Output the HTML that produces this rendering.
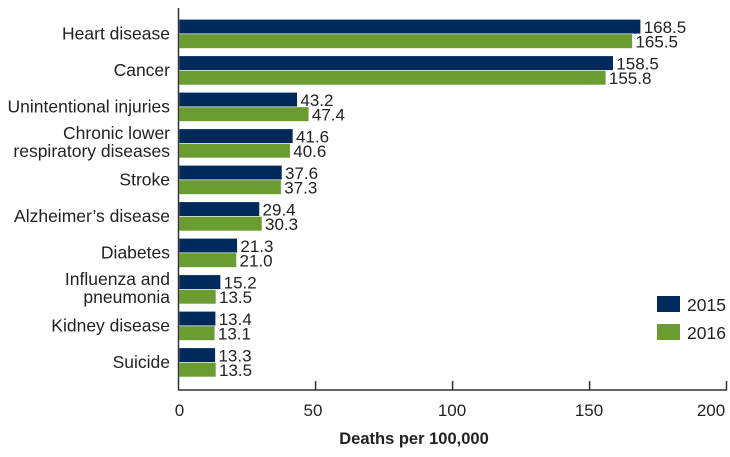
<!DOCTYPE html>
<html><head><meta charset="utf-8"><style>
body{margin:0;background:#fff}
svg text{font-family:"Liberation Sans",sans-serif;fill:#222}
</style></head><body>
<svg width="730" height="452" viewBox="0 0 730 452" xmlns="http://www.w3.org/2000/svg">
<g id="bars"></g>
<line x1="178.5" y1="8" x2="178.5" y2="390" stroke="#333" stroke-width="1.5"/>
<line x1="178" y1="390" x2="727" y2="390" stroke="#333" stroke-width="1.5"/>
<g stroke="#333" stroke-width="1.5">
<line x1="315.6" y1="381" x2="315.6" y2="390"/><line x1="452.6" y1="381" x2="452.6" y2="390"/>
<line x1="589.6" y1="381" x2="589.6" y2="390"/><line x1="726.5" y1="381" x2="726.5" y2="390"/>
</g>
<g font-size="17" text-anchor="middle">
<text x="179.5" y="416">0</text><text x="313" y="416">50</text><text x="452" y="416">100</text><text x="589" y="416">150</text><text x="711" y="416">200</text>
</g>
<text x="414" y="444" font-size="16.5" font-weight="bold" text-anchor="middle">Deaths per 100,000</text>
<rect x="657" y="296" width="23" height="16" fill="#002a5c"/>
<rect x="657" y="324" width="23" height="16" fill="#6a9c32"/>
<text x="687" y="311" font-size="17.5">2015</text>
<text x="687" y="339" font-size="17.5">2016</text>
<g id="labels" font-size="17.5" text-anchor="end"></g>
<script>
var d=[["Heart disease",168.5,165.5],["Cancer",158.5,155.8],["Unintentional injuries",43.2,47.4],["Chronic lower|respiratory diseases",41.6,40.6],["Stroke",37.6,37.3],["Alzheimer’s disease",29.4,30.3],["Diabetes",21.3,21.0],["Influenza and|pneumonia",15.2,13.5],["Kidney disease",13.4,13.1],["Suicide",13.3,13.5]];
var ns="http://www.w3.org/2000/svg",b=document.getElementById("bars"),l=document.getElementById("labels");
function el(p,t,a,tx){var e=document.createElementNS(ns,t);for(var k in a)e.setAttribute(k,a[k]);if(tx!=null)e.textContent=tx;p.appendChild(e);return e;}
var s=137/50;
d.forEach(function(r,i){var y=19.3+i*36.5;
[[r[1],"#002a5c",0],[r[2],"#6a9c32",1]].forEach(function(v){var yy=y+v[2]*14.6;var w=v[0]*s;
el(b,"rect",{x:179,y:yy,width:w,height:14.6,fill:v[1],stroke:"#fff","stroke-width":"0.6"});
el(b,"text",{x:179+w+3,y:yy+13.5,"font-size":"17"},v[0].toFixed(1));});
var parts=r[0].split("|");
if(parts.length==1)el(l,"text",{x:170,y:y+20},parts[0]);
else{el(l,"text",{x:170,y:y+10},parts[0]);el(l,"text",{x:170,y:y+28},parts[1]);}
});
</script>
</svg>
</body></html>
